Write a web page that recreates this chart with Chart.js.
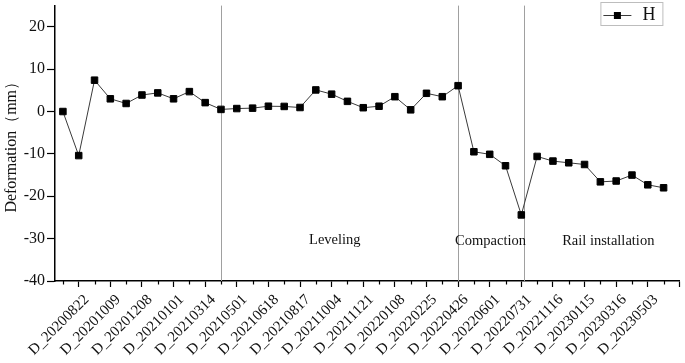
<!DOCTYPE html>
<html>
<head>
<meta charset="utf-8">
<script src="https://cdn.jsdelivr.net/npm/chart.js@4.4.1/dist/chart.umd.min.js"></script>
<style>
  html, body { margin: 0; padding: 0; background: #ffffff; }
  #wrap { width: 685px; height: 363px; }
</style>
</head>
<body>
<div id="wrap"><canvas id="c" width="685" height="363"></canvas></div>
<script>
// ---- data ----
const seriesName = 'H';
const deformation = [0, -10.4, 7.4, 3.0, 1.9, 3.9, 4.4, 3.0, 4.7, 2.1, 0.5,
  0.7, 0.8, 1.25, 1.2, 0.95, 5.1, 4.1, 2.4, 0.9, 1.25, 3.5, 0.4, 4.3, 3.5, 6.1,
  -9.5, -10.1, -12.8, -24.4, -10.6, -11.7, -12.1, -12.5, -16.6, -16.4, -15.0, -17.3, -18.0];
const tickLabels = ['D_20200822', 'D_20201009', 'D_20201208', 'D_20210101', 'D_20210314',
  'D_20210501', 'D_20210618', 'D_20210817', 'D_20211004', 'D_20211121', 'D_20220108',
  'D_20220225', 'D_20220426', 'D_20220601', 'D_20220731', 'D_20221116', 'D_20230115',
  'D_20230316', 'D_20230503'];
const phaseNames = ['Leveling', 'Compaction', 'Rail installation'];
const phaseBoundaries = [11, 26, 30.15];
const yTickValues = [-40, -30, -20, -10, 0, 10, 20];

const points = deformation.map((v, i) => ({ x: i + 1, y: v }));
const FONT = "'Liberation Serif', 'Times New Roman', serif";

const decorPlugin = {
  id: 'decor',
  beforeDatasetsDraw(chart) {
    const { ctx, chartArea, scales } = chart;
    const xs = scales.x;
    ctx.save();
    ctx.strokeStyle = '#a0a0a0';
    ctx.lineWidth = 1;
    phaseBoundaries.forEach(b => {
      const px = Math.round(xs.getPixelForValue(b)) + 0.5;
      ctx.beginPath();
      ctx.moveTo(px, chartArea.top);
      ctx.lineTo(px, chartArea.bottom);
      ctx.stroke();
    });
    ctx.restore();
  },
  afterDraw(chart) {
    const { ctx, chartArea, scales } = chart;
    const xs = scales.x, ys = scales.y;
    ctx.save();
    // minor ticks on x axis (odd positions)
    ctx.strokeStyle = '#000';
    ctx.lineWidth = 1.2;
    for (let i = 1; i <= 40; i += 2) {
      const px = Math.round(xs.getPixelForValue(i)) + 0.5;
      ctx.beginPath();
      ctx.moveTo(px, chartArea.bottom);
      ctx.lineTo(px, chartArea.bottom + 3.5);
      ctx.stroke();
    }
    // phase labels
    ctx.fillStyle = '#111';
    ctx.font = '14.5px ' + FONT;
    ctx.textAlign = 'center';
    ctx.textBaseline = 'middle';
    const phasePos = [[18.2, -30.4], [28.05, -30.6], [35.5, -30.6]];
    phaseNames.forEach((n, k) => {
      ctx.fillText(n, xs.getPixelForValue(phasePos[k][0]), ys.getPixelForValue(phasePos[k][1]));
    });
    // legend box
    const ds = chart.data.datasets[0];
    const bx = chartArea.right - 79, by = 2, bw = 62, bh = 23;
    ctx.strokeStyle = '#bdbdbd';
    ctx.lineWidth = 1;
    ctx.strokeRect(bx + 0.5, by + 0.5, bw, bh);
    ctx.strokeStyle = ds.borderColor;
    ctx.lineWidth = 1;
    ctx.beginPath();
    ctx.moveTo(bx + 3, by + 13.5);
    ctx.lineTo(bx + 31, by + 13.5);
    ctx.stroke();
    ctx.fillStyle = '#000';
    ctx.fillRect(bx + 13.5, by + 10, 7, 7);
    ctx.font = '18px ' + FONT;
    ctx.textAlign = 'left';
    ctx.fillStyle = '#111';
    ctx.fillText(ds.label, bx + 42, by + 13);
    ctx.restore();
  }
};

new Chart(document.getElementById('c'), {
  type: 'line',
  data: {
    datasets: [{
      label: seriesName,
      data: points,
      borderColor: '#3a3a3a',
      borderWidth: 1,
      pointStyle: 'rect',
      pointRadius: 4.6,
      pointBorderWidth: 1,
      pointBackgroundColor: '#000',
      pointBorderColor: '#000',
      tension: 0
    }]
  },
  options: {
    responsive: false,
    animation: false,
    devicePixelRatio: 1,
    layout: { padding: { top: 5, right: 3, left: 0, bottom: 0 } },
    plugins: { legend: { display: false }, tooltip: { enabled: false } },
    scales: {
      x: {
        type: 'linear',
        min: 0.5,
        max: 40,
        afterBuildTicks(scale) {
          const t = [];
          for (let i = 1; i <= 40; i++) t.push({ value: i });
          scale.ticks = t;
        },
        afterFit(scale) {
          scale.height = 82;
          scale.paddingLeft = 0; scale.paddingRight = 0;
          scale.paddingTop = 0; scale.paddingBottom = 0;
        },
        border: { display: true, color: '#000', width: 1.5 },
        grid: {
          display: true,
          drawOnChartArea: false,
          drawTicks: true,
          tickLength: 6,
          tickWidth: 1.2,
          tickColor: ctx => (ctx.tick && ctx.tick.value % 2 === 0) ? '#000' : 'rgba(0,0,0,0)'
        },
        ticks: {
          autoSkip: false,
          maxRotation: 45,
          minRotation: 45,
          padding: 4,
          labelOffset: 8,
          color: '#111',
          font: { family: FONT, size: 15 },
          callback: v => (v % 2 === 0 && tickLabels[v / 2 - 1]) ? tickLabels[v / 2 - 1] : ''
        }
      },
      y: {
        min: -40,
        max: 25,
        afterBuildTicks(scale) { scale.ticks = yTickValues.map(v => ({ value: v })); },
        afterFit(scale) {
          scale.width = 55;
          scale.paddingLeft = 0; scale.paddingRight = 0;
          scale.paddingTop = 0; scale.paddingBottom = 0;
        },
        border: { display: true, color: '#000', width: 1.5 },
        grid: {
          display: true,
          drawOnChartArea: false,
          drawTicks: true,
          tickLength: 8,
          tickWidth: 1.2,
          tickColor: '#000'
        },
        ticks: {
          padding: 2,
          color: '#111',
          font: { family: FONT, size: 16 }
        },
        title: {
          display: true,
          text: 'Deformation（mm）',
          color: '#111',
          font: { family: FONT, size: 16 },
          padding: { top: 2, bottom: 2 }
        }
      }
    }
  },
  plugins: [decorPlugin]
});
</script>
</body>
</html>
